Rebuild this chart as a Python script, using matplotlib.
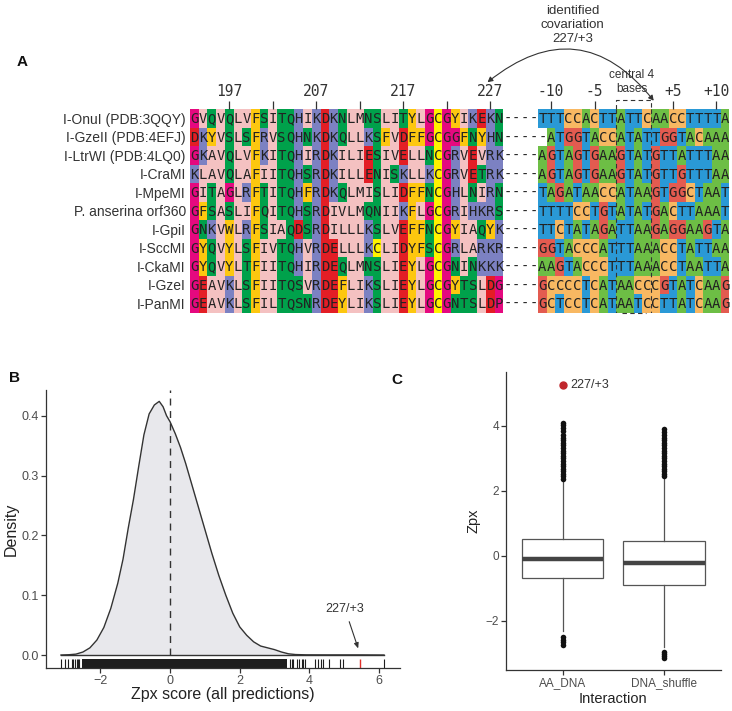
import matplotlib
matplotlib.use("Agg")
import matplotlib.pyplot as plt
import numpy as np
from matplotlib.colors import ListedColormap
from matplotlib.patches import FancyArrowPatch

# ---- panel A data ----
names = ["I-OnuI (PDB:3QQY)", "I-GzeII (PDB:4EFJ)", "I-LtrWI (PDB:4LQ0)", "I-CraMI",
         "I-MpeMI", "P. anserina orf360", "I-GpiI", "I-SccMI", "I-CkaMI", "I-GzeI", "I-PanMI"]
protein = ["GVQVQLVFSITQHIKDKNLMNSLITYLGCGYIKEKN",
           "DKYVSLSFRVSQHNKDKQLLKSFVDFFGCGGFNYHN",
           "GKAVQLVFKITQHIRDKILIESIVELLNCGRVEVRK",
           "KLAVQLAFIITQHSRDKILLENISKLLKCGRVETRK",
           "GITAGLRFTITQHFRDKQLMISLIDFFNCGHLNIRN",
           "GFSASLIFQITQHSRDIVLMQNIIKFLGCGRIHKRS",
           "GNKVWLRFSIAQDSRDILLLKSLVEFFNCGYIAQYK",
           "GYQVYLSFIVTQHVRDELLLKCLIDYFSCGRLARKR",
           "GYQVYLTFIITQHIRDEQLMNSLIEYLGCGNINKKK",
           "GEAVKLSFIITQSVRDEFLIKSLIEYLGCGYTSLDG",
           "GEAVKLSFILTQSNRDEYLIKSLIEYLGCGNTSLDP"]
dna = ["TTTCCACTTATTCAACCTTTTA",
       "-ATGGTACCATATTGGTACAAA",
       "AGTAGTGAAGTATGTTATTTAA",
       "AGTAGTGAAGTATGTTGTTTAA",
       "TAGATAACCATAAGTGGCTAAT",
       "TTTTCCTGTATATGACTTAAAT",
       "TTCTATAGATTAAGAGGAAGTA",
       "GGTACCCATTTAAACCTATTAA",
       "AAGTACCCTTTAAACCTAATTA",
       "GCCCCTCATAACCCGTATCAAG",
       "GCTCCTCATAATCCTTATCAAG"]
aa_start = 193
aa_ticks = [197, 207, 217, 227]
aa_minor = [202, 212, 222]
dna_pos = [-11, -10, -9, -8, -7, -6, -5, -4, -3, -2, -1, 1, 2, 3, 4, 5, 6, 7, 8, 9, 10, 11]
dna_ticks = [-10, -5, 5, 10]
dna_tick_labels = ["-10", "-5", "+5", "+10"]
central = [-2, -1, 1, 2]
covar_pair = (227, 3)

# ---- panel B data ----
dens_x = [-3.13, -2.9, -2.7, -2.5, -2.3, -2.1, -1.9, -1.7, -1.5, -1.35, -1.2, -1.05, -0.9,
          -0.75, -0.6, -0.45, -0.31, -0.2, -0.1, 0.0, 0.15, 0.3, 0.45, 0.6, 0.8, 1.0, 1.2,
          1.4, 1.6, 1.8, 2.0, 2.2, 2.4, 2.6, 2.8, 3.0, 3.2, 3.4, 3.6, 3.9, 4.5, 5.0, 5.5, 6.14]
dens_y = [0.0, 0.0005, 0.0015, 0.005, 0.012, 0.025, 0.046, 0.078, 0.12, 0.16, 0.212, 0.26,
          0.315, 0.368, 0.403, 0.418, 0.424, 0.415, 0.40, 0.39, 0.37, 0.347, 0.32, 0.29,
          0.25, 0.21, 0.17, 0.133, 0.1, 0.07, 0.047, 0.033, 0.022, 0.015, 0.012, 0.009,
          0.005, 0.002, 0.0008, 0.0003, 0.0002, 0.0002, 0.0002, 0.0]
rug_dense = (-2.54, 3.35)
rug_sparse = [-3.13, -3.01, -2.94, -2.82, -2.78, -2.73, -2.68, -2.63, -2.6, 3.44, 3.49,
              3.54, 3.64, 3.71, 3.78, 3.83, 3.88, 4.16, 4.26, 4.33, 4.4, 4.55, 4.88, 4.96, 6.14]
rug_hit = 5.45

# ---- panel C data ----
groups = ["AA_DNA", "DNA_shuffle"]
q1 = [-0.69, -0.88]
med = [-0.10, -0.22]
q3 = [0.52, 0.45]
whislo = [-2.3, -2.8]
whishi = [2.34, 2.4]
fliers_aa = [2.38, 2.45, 2.52, 2.6, 2.68, 2.76, 2.84, 2.92, 3.0, 3.08, 3.16, 3.24, 3.32,
             3.4, 3.48, 3.56, 3.64, 3.72, 3.85, 3.95, 4.04, 4.1, -2.5, -2.58, -2.66, -2.74]
fliers_sh = [2.45, 2.52, 2.6, 2.68, 2.76, 2.84, 2.92, 3.0, 3.08, 3.16, 3.24, 3.32, 3.4,
             3.48, 3.56, 3.64, 3.72, 3.8, 3.9, -2.95, -3.02, -3.08, -3.13]
hit_zpx = 5.26

W, H = 732, 711
fig = plt.figure(figsize=(W / 100, H / 100), dpi=100)
sans = "Liberation Sans"
dark = "#333333"


def px_axes(l, t, r, b):
    return fig.add_axes([l / W, 1 - b / H, (r - l) / W, (b - t) / H])


# ================= panel A =================
palette = ["#FFFFFF", "#F4C1C1", "#FDC70F", "#00A14B", "#7C81C2", "#E31E25", "#E5097F",
           "#FFF200", "#6DBE45", "#2A99D6", "#F8B862", "#E35B50"]
aa_code = {}
for c in "AILMV":
    aa_code[c] = 1
for c in "FYW":
    aa_code[c] = 2
for c in "NQST":
    aa_code[c] = 3
for c in "KRH":
    aa_code[c] = 4
for c in "DE":
    aa_code[c] = 5
for c in "GP":
    aa_code[c] = 6
aa_code["C"] = 7
nt_code = {"A": 8, "T": 9, "C": 10, "G": 11}

n_aa = len(protein[0])
gap = 4
dna0 = n_aa + gap
ncol = dna0 + len(dna[0])
nrow = len(names)
rows = [p + "-" * gap + d for p, d in zip(protein, dna)]
codes = np.zeros((nrow, ncol), dtype=int)
for i, r in enumerate(rows):
    for j, ch in enumerate(r):
        if j < n_aa:
            codes[i, j] = aa_code.get(ch, 0)
        elif j >= dna0:
            codes[i, j] = nt_code.get(ch, 0)

cw = 8.7
axA = px_axes(190, 109, 190 + ncol * cw, 312.5)
axA.pcolormesh(np.arange(ncol + 1), np.arange(nrow + 1), codes,
               cmap=ListedColormap(palette), vmin=-0.5, vmax=len(palette) - 0.5,
               shading="flat", antialiased=False)
for i, r in enumerate(rows):
    for j, ch in enumerate(r):
        axA.text(j + 0.5, i + 0.55, ch, ha="center", va="center", fontsize=10,
                 family="DejaVu Sans Mono", color="#222222")
axA.set_xlim(0, ncol)
axA.set_ylim(nrow, 0)
for s in axA.spines.values():
    s.set_visible(False)
axA.set_yticks(np.arange(nrow) + 0.5, names)
axA.tick_params(axis="y", length=0, pad=3, labelsize=10, labelcolor=dark)
for t in axA.get_yticklabels():
    t.set_family(sans)

maj = [p - aa_start + 0.5 for p in aa_ticks] + [dna0 + dna_pos.index(p) + 0.5 for p in dna_ticks]
axA.xaxis.set_ticks_position("top")
axA.set_xticks(maj, [str(p) for p in aa_ticks] + dna_tick_labels)
axA.set_xticks([p - aa_start + 0.5 for p in aa_minor], minor=True)
axA.tick_params(axis="x", which="both", length=5.5, width=0.9, color=dark, pad=1.5,
                labelsize=10.5, labelcolor=dark)
for t in axA.get_xticklabels():
    t.set_family("DejaVu Sans Mono")

# central 4 bases
c0 = dna0 + dna_pos.index(central[0])
c1 = dna0 + dna_pos.index(central[-1]) + 1
axA.vlines([c0, c1], 0, nrow, colors=dark, linestyles=(0, (4, 3)), lw=0.8)
axA.plot([c0, c0, c1, c1], [0, -0.5, -0.5, 0], color=dark, lw=0.8, ls=(0, (4, 3)),
         clip_on=False)
axA.plot([c0 + 0.6, c1 - 0.6], [nrow + 0.05, nrow + 0.05], color=dark, lw=0.8,
         ls=(0, (4, 3)), clip_on=False)
axA.text((c0 + c1) / 2 - 0.2, -1.45, "central 4\nbases", ha="center", va="center",
         fontsize=8.5, family=sans, color=dark, linespacing=1.2)

# covariation arrow
xa = covar_pair[0] - aa_start + 0.5
xb = dna0 + dna_pos.index(covar_pair[1]) + 0.3
arr = FancyArrowPatch((xb, -0.45), (xa - 0.3, -1.45), connectionstyle="arc3,rad=0.5",
                      arrowstyle="<|-|>,head_length=3,head_width=1.6", color=dark, lw=0.8,
                      clip_on=False, shrinkA=0, shrinkB=0)
axA.add_patch(arr)
axA.text(44.0, -4.55, "identified\ncovariation\n227/+3", ha="center", va="center",
         fontsize=9.5, family=sans, color=dark, linespacing=1.25)

# ================= panel B =================
axB = px_axes(46, 390, 400, 668)
axB.fill_between(dens_x, dens_y, color="#E8E8EC", lw=0)
axB.plot(dens_x, dens_y, color=dark, lw=1)
axB.plot([dens_x[0], dens_x[-1]], [0, 0], color=dark, lw=1)
axB.set_xlim(-3.56, 6.6)
axB.set_ylim(-0.0217, 0.443)
axB.vlines(0, 0, 0.443, colors=dark, linestyles=(0, (5, 4)), lw=1)
rug_lo, rug_hi = -0.0217, -0.0072
axB.fill_between(list(rug_dense), rug_lo, rug_hi, color="#1E1E1E", lw=0)
axB.vlines(rug_sparse, rug_lo, rug_hi, colors="#1E1E1E", lw=0.8)
axB.vlines([rug_hit], rug_lo, rug_hi, colors="#E0312B", lw=1)
axB.annotate("227/+3", xy=(5.4, 0.011), xytext=(5.02, 0.077), ha="center", va="center",
             fontsize=9, family=sans, color=dark,
             arrowprops=dict(arrowstyle="-|>,head_length=0.35,head_width=0.15",
                             color=dark, lw=0.8, shrinkA=3, shrinkB=0))
axB.set_xticks([-2, 0, 2, 4, 6])
axB.set_yticks([0.0, 0.1, 0.2, 0.3, 0.4], ["0.0", "0.1", "0.2", "0.3", "0.4"])
axB.set_xlabel("Zpx score (all predictions)", fontsize=11.5, family=sans, color="#222222",
               labelpad=0)
axB.set_ylabel("Density", fontsize=11.5, family=sans, color="#222222", labelpad=2)

# ================= panel C =================
axC = px_axes(506, 372, 720.5, 670)
stats = []
for k, g in enumerate(groups):
    fl = fliers_aa if k == 0 else fliers_sh
    stats.append(dict(label=g, q1=q1[k], med=med[k], q3=q3[k], whislo=whislo[k],
                      whishi=whishi[k], fliers=fl))
axC.bxp(stats, positions=[1, 2], widths=0.8, patch_artist=True,
        boxprops=dict(facecolor="white", edgecolor="#555555", lw=0.9),
        medianprops=dict(color="#444444", lw=3.2),
        whiskerprops=dict(color="#555555", lw=0.9),
        capprops=dict(lw=0),
        flierprops=dict(marker="o", markersize=4.0, markerfacecolor="#111111",
                        markeredgecolor="#111111", markeredgewidth=0))
axC.plot([1], [hit_zpx], "o", color="#C0272D", markersize=5)
axC.text(1.08, hit_zpx, "227/+3", ha="left", va="center", fontsize=9, family=sans,
         color=dark)
axC.set_xlim(0.443, 2.557)
axC.set_ylim(-3.51, 5.66)
axC.set_yticks([-2, 0, 2, 4])
axC.set_xlabel("Interaction", fontsize=10.5, family=sans, color="#222222", labelpad=2)
axC.set_ylabel("Zpx", fontsize=10.5, family=sans, color="#222222", labelpad=4)

for ax, ls in ((axB, 9), (axC, 8.5)):
    for side in ("top", "right"):
        ax.spines[side].set_visible(False)
    for side in ("left", "bottom"):
        ax.spines[side].set_color(dark)
        ax.spines[side].set_linewidth(0.9)
    ax.tick_params(length=3.5, width=0.9, color=dark, labelsize=ls, labelcolor="#4D4D4D",
                   pad=1.5)
    for t in ax.get_xticklabels() + ax.get_yticklabels():
        t.set_family(sans)

# panel letters
for lab, x, y in [("A", 22, 62), ("B", 15, 378), ("C", 397, 380)]:
    fig.text(x / W, 1 - y / H, lab, fontsize=11, fontweight="bold", family=sans,
             ha="center", va="center", color="#111111")

fig.savefig("out.png", dpi=100)
